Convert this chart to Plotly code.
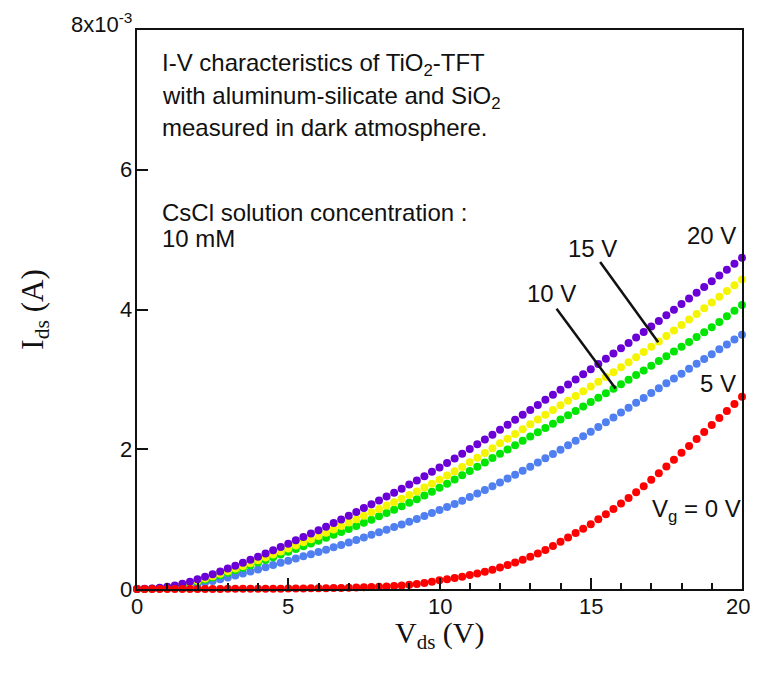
import plotly.graph_objects as go

# Drain-source voltage (V), 0.25 V steps
vds = [i * 0.25 for i in range(81)]

# Drain current in units of 1e-3 A for each gate voltage
i_vg20 = [0.000, 0.002, 0.008, 0.018, 0.032, 0.050, 0.074, 0.104, 0.138, 0.174,
          0.212, 0.252, 0.292, 0.333, 0.375, 0.418, 0.462, 0.507, 0.553, 0.600,
          0.648, 0.696, 0.744, 0.793, 0.842, 0.892, 0.943, 0.995, 1.048, 1.102,
          1.158, 1.213, 1.268, 1.323, 1.378, 1.435, 1.494, 1.554, 1.615, 1.677,
          1.740, 1.804, 1.869, 1.935, 2.002, 2.070, 2.139, 2.209, 2.280, 2.350,
          2.421, 2.492, 2.563, 2.635, 2.707, 2.779, 2.852, 2.925, 2.998, 3.072,
          3.146, 3.220, 3.295, 3.370, 3.446, 3.522, 3.599, 3.677, 3.756, 3.836,
          3.916, 3.997, 4.078, 4.159, 4.240, 4.322, 4.404, 4.487, 4.570, 4.654,
          4.740]

i_vg15 = [0.000, 0.001, 0.005, 0.012, 0.024, 0.040, 0.062, 0.088, 0.118, 0.150,
          0.184, 0.219, 0.255, 0.292, 0.330, 0.370, 0.410, 0.451, 0.493, 0.536,
          0.580, 0.624, 0.668, 0.713, 0.758, 0.805, 0.852, 0.900, 0.950, 1.000,
          1.050, 1.098, 1.146, 1.194, 1.243, 1.293, 1.344, 1.397, 1.452, 1.508,
          1.565, 1.624, 1.684, 1.745, 1.815, 1.880, 1.947, 2.015, 2.085, 2.152,
          2.220, 2.288, 2.356, 2.424, 2.492, 2.560, 2.628, 2.695, 2.762, 2.830,
          2.898, 2.966, 3.034, 3.103, 3.173, 3.245, 3.318, 3.392, 3.467, 3.542,
          3.620, 3.699, 3.778, 3.857, 3.937, 4.018, 4.099, 4.181, 4.263, 4.346,
          4.430]

i_vg10 = [0.000, 0.001, 0.004, 0.010, 0.020, 0.034, 0.053, 0.076, 0.103, 0.133,
          0.165, 0.198, 0.232, 0.267, 0.303, 0.340, 0.378, 0.416, 0.455, 0.494,
          0.533, 0.572, 0.612, 0.652, 0.692, 0.733, 0.775, 0.817, 0.860, 0.903,
          0.947, 0.991, 1.040, 1.087, 1.135, 1.184, 1.234, 1.285, 1.338, 1.393,
          1.450, 1.508, 1.567, 1.627, 1.688, 1.750, 1.812, 1.874, 1.936, 1.998,
          2.059, 2.120, 2.181, 2.242, 2.303, 2.364, 2.425, 2.487, 2.549, 2.612,
          2.675, 2.738, 2.802, 2.866, 2.931, 2.996, 3.062, 3.128, 3.195, 3.262,
          3.330, 3.398, 3.467, 3.536, 3.606, 3.676, 3.747, 3.822, 3.902, 3.983,
          4.065]

i_vg5 = [0.000, 0.000, 0.002, 0.006, 0.013, 0.023, 0.036, 0.052, 0.071, 0.092,
         0.115, 0.140, 0.166, 0.193, 0.221, 0.250, 0.280, 0.311, 0.342, 0.374,
         0.406, 0.437, 0.468, 0.499, 0.531, 0.563, 0.596, 0.630, 0.665, 0.701,
         0.738, 0.775, 0.812, 0.849, 0.886, 0.924, 0.963, 1.003, 1.044, 1.086,
         1.129, 1.173, 1.218, 1.264, 1.315, 1.366, 1.418, 1.471, 1.525, 1.580,
         1.636, 1.693, 1.751, 1.810, 1.870, 1.931, 1.993, 2.056, 2.120, 2.185,
         2.251, 2.318, 2.386, 2.455, 2.525, 2.595, 2.665, 2.734, 2.804, 2.874,
         2.943, 3.013, 3.082, 3.152, 3.222, 3.291, 3.361, 3.431, 3.500, 3.570,
         3.640]

i_vg0 = [0.000, 0.000, 0.000, 0.000, 0.000, 0.000, 0.000, 0.000, 0.001, 0.001,
         0.001, 0.001, 0.002, 0.002, 0.002, 0.003, 0.003, 0.004, 0.004, 0.005,
         0.006, 0.007, 0.008, 0.009, 0.010, 0.012, 0.014, 0.016, 0.018, 0.021,
         0.024, 0.028, 0.032, 0.037, 0.043, 0.050, 0.060, 0.070, 0.085, 0.105,
         0.125, 0.140, 0.157, 0.177, 0.199, 0.222, 0.248, 0.277, 0.309, 0.343,
         0.380, 0.419, 0.461, 0.507, 0.559, 0.615, 0.675, 0.737, 0.800, 0.863,
         0.928, 0.997, 1.069, 1.144, 1.222, 1.302, 1.384, 1.470, 1.562, 1.657,
         1.753, 1.851, 1.950, 2.048, 2.147, 2.246, 2.346, 2.446, 2.547, 2.648,
         2.750]

series = [
    ("5 V", i_vg5, "#4f7ff0"),
    ("10 V", i_vg10, "#00e600"),
    ("15 V", i_vg15, "#f5f500"),
    ("20 V", i_vg20, "#6a00d6"),
    ("0 V", i_vg0, "#ff0000"),
]

y_tickvals = [0, 2, 4, 6, 8]
y_ticktext = ["0", "2", "4", "6", "8x10<sup>-3</sup>"]
x_tickvals = [0, 5, 10, 15, 20]
x_ticktext = ["0", "5", "10", "15", "20"]

fig = go.Figure()
for name, vals, color in series:
    fig.add_trace(go.Scatter(
        x=vds, y=vals, mode="markers", name=name,
        marker=dict(size=8, color=color, line=dict(width=0)),
        showlegend=False, cliponaxis=False,
    ))

sans = "Liberation Sans, Arial, sans-serif"
serif = "Liberation Serif, Times New Roman, serif"
ink = "#111"

# The page body adds an 8px margin on every side; size the figure so the page
# fits the window exactly (no scrollbars) while the plot frame sits where the
# reference has it.
fig.update_layout(
    width=742, height=657,
    margin=dict(l=129, r=8, t=22, b=76),
    paper_bgcolor="white", plot_bgcolor="white",
    font=dict(family=sans, size=22, color=ink),
    xaxis=dict(
        range=[0, 20], tickvals=x_tickvals, ticks="inside", ticklen=11,
        tickwidth=2, tickcolor=ink, automargin=False, showticklabels=False,
        minor=dict(dtick=1, ticks="inside", ticklen=6, tickwidth=1.5, tickcolor=ink),
        showline=True, linecolor=ink, linewidth=2, mirror=True,
        showgrid=False, zeroline=False,
    ),
    yaxis=dict(
        range=[0, 8], tickvals=y_tickvals, ticks="inside",
        ticklen=11, tickwidth=2, tickcolor=ink, automargin=False, showticklabels=False,
        showline=True, linecolor=ink, linewidth=2, mirror=True,
        showgrid=False, zeroline=False,
    ),
)

tick_font = dict(family=sans, size=22, color=ink)
for v, t in zip(x_tickvals, x_ticktext):
    fig.add_annotation(x=v, y=0, xref="x", yref="paper", text=t, showarrow=False,
                       xanchor="center", yanchor="top", yshift=-3,
                       xshift=-4 if v == 20 else 0, font=tick_font)
for v, t in zip(y_tickvals, y_ticktext):
    fig.add_annotation(x=0, y=v, xref="paper", yref="y", text=t, showarrow=False,
                       xanchor="right", yanchor="middle", xshift=-3,
                       yshift=7 if v == 8 else 0, font=tick_font)

# Axis titles
fig.add_annotation(x=0.5, y=-0.083, xref="paper", yref="paper",
                   text="V<sub>ds</sub> (V)", showarrow=False,
                   xanchor="center", yanchor="middle",
                   font=dict(family=serif, size=30, color=ink))
fig.add_annotation(x=-0.17, y=0.5, xref="paper", yref="paper",
                   text="I<sub>ds</sub> (A)", showarrow=False, textangle=-90,
                   xanchor="center", yanchor="middle",
                   font=dict(family=serif, size=31, color=ink))

ann_font = dict(family=sans, size=24, color=ink)
text_lines = [
    ("I-V characteristics of TiO<sub>2</sub>-TFT", 7.50),
    ("with aluminum-silicate and SiO<sub>2</sub>", 7.04),
    ("measured in dark atmosphere.", 6.60),
    ("CsCl solution concentration :", 5.39),
    ("10 mM", 5.02),
]
for txt, yv in text_lines:
    fig.add_annotation(x=0.76, y=yv, xref="x", yref="y", text=txt, showarrow=False,
                       xanchor="left", yanchor="middle", font=ann_font)

labels = [
    ("20 V", 19.00, 5.06),
    ("15 V", 15.06, 4.87),
    ("10 V", 13.69, 4.23),
    ("5 V", 19.19, 2.94),
    ("V<sub>g</sub> = 0 V", 18.48, 1.12),
]
for txt, xv, yv in labels:
    fig.add_annotation(x=xv, y=yv, xref="x", yref="y", text=txt, showarrow=False,
                       xanchor="center", yanchor="middle", font=ann_font)

pointers = [
    (15.31, 4.68, 17.23, 3.53),
    (13.87, 4.01, 15.82, 2.87),
]
for x0, y0, x1, y1 in pointers:
    fig.add_shape(type="line", x0=x0, y0=y0, x1=x1, y1=y1, xref="x", yref="y",
                  line=dict(color=ink, width=2.5))

fig.write_html("out.html")
